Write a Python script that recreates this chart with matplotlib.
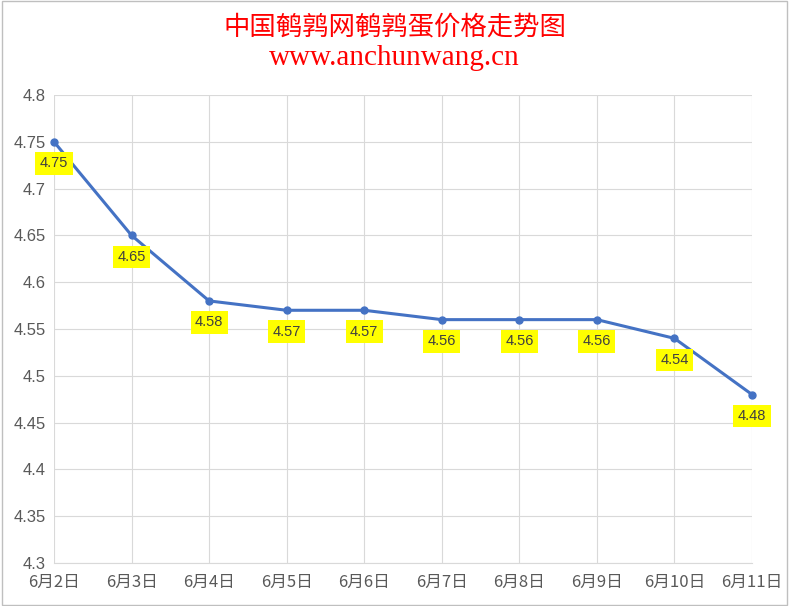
import matplotlib.pyplot as plt
from matplotlib.patches import Rectangle

# 数据
dates = ['6月2日', '6月3日', '6月4日', '6月5日', '6月6日',
         '6月7日', '6月8日', '6月9日', '6月10日', '6月11日']
prices = [4.75, 4.65, 4.58, 4.57, 4.57, 4.56, 4.56, 4.56, 4.54, 4.48]
y_ticks = [4.3, 4.35, 4.4, 4.45, 4.5, 4.55, 4.6, 4.65, 4.7, 4.75, 4.8]

plt.rcParams['font.family'] = ['Noto Sans CJK SC', 'DejaVu Sans']

fig = plt.figure(figsize=(7.89, 6.06), dpi=100)
ax = fig.add_axes([54/789, 1 - 563/606, (752 - 54)/789, (563 - 95)/606])

x = list(range(len(dates)))
ax.plot(x, prices, color='#4472C4', linewidth=2.2, marker='o', markersize=5,
        zorder=3, clip_on=False)

# 数据标签
for i, v in enumerate(prices):
    ax.annotate(f'{v:g}', (i, v), textcoords='offset points', xytext=(0, -15.5),
                ha='center', va='center', fontsize=10.5, color='#404040',
                family=['Liberation Sans', 'DejaVu Sans'],
                bbox=dict(boxstyle='square,pad=0.3', fc='#FFFF00', ec='none'), zorder=4)

ax.set_xlim(0, len(dates) - 1)
ax.set_ylim(4.3, 4.8)
ax.set_xticks(x)
ax.set_xticklabels(dates, fontsize=12, color='#595959')
ax.set_yticks(y_ticks)
ax.set_yticklabels([f'{t:g}' for t in y_ticks], fontsize=12, color='#595959',
                   family=['Liberation Sans', 'DejaVu Sans'])
ax.tick_params(axis='x', length=0, pad=8)
ax.tick_params(axis='y', length=0, pad=6)
ax.grid(True, color='#D9D9D9', linewidth=0.8)
ax.set_axisbelow(True)
for s in ['top', 'right', 'left']:
    ax.spines[s].set_visible(False)
ax.spines['bottom'].set_color('#D9D9D9')

# 标题
fig.text(0.5, 1 - 27/606, '中国鹌鹑网鹌鹑蛋价格走势图', ha='center', va='center',
         fontsize=19, color='#FF0000')
fig.text(0.5, 1 - 58/606, 'www.anchunwang.cn', ha='center', va='center',
         fontsize=21, color='#FF0000', family='Liberation Serif')

fig.patches.append(Rectangle((0.002, 0.002), 0.996, 0.996, transform=fig.transFigure,
                             fill=False, edgecolor='#BFBFBF', linewidth=1))

fig.savefig('out.png', dpi=100)
